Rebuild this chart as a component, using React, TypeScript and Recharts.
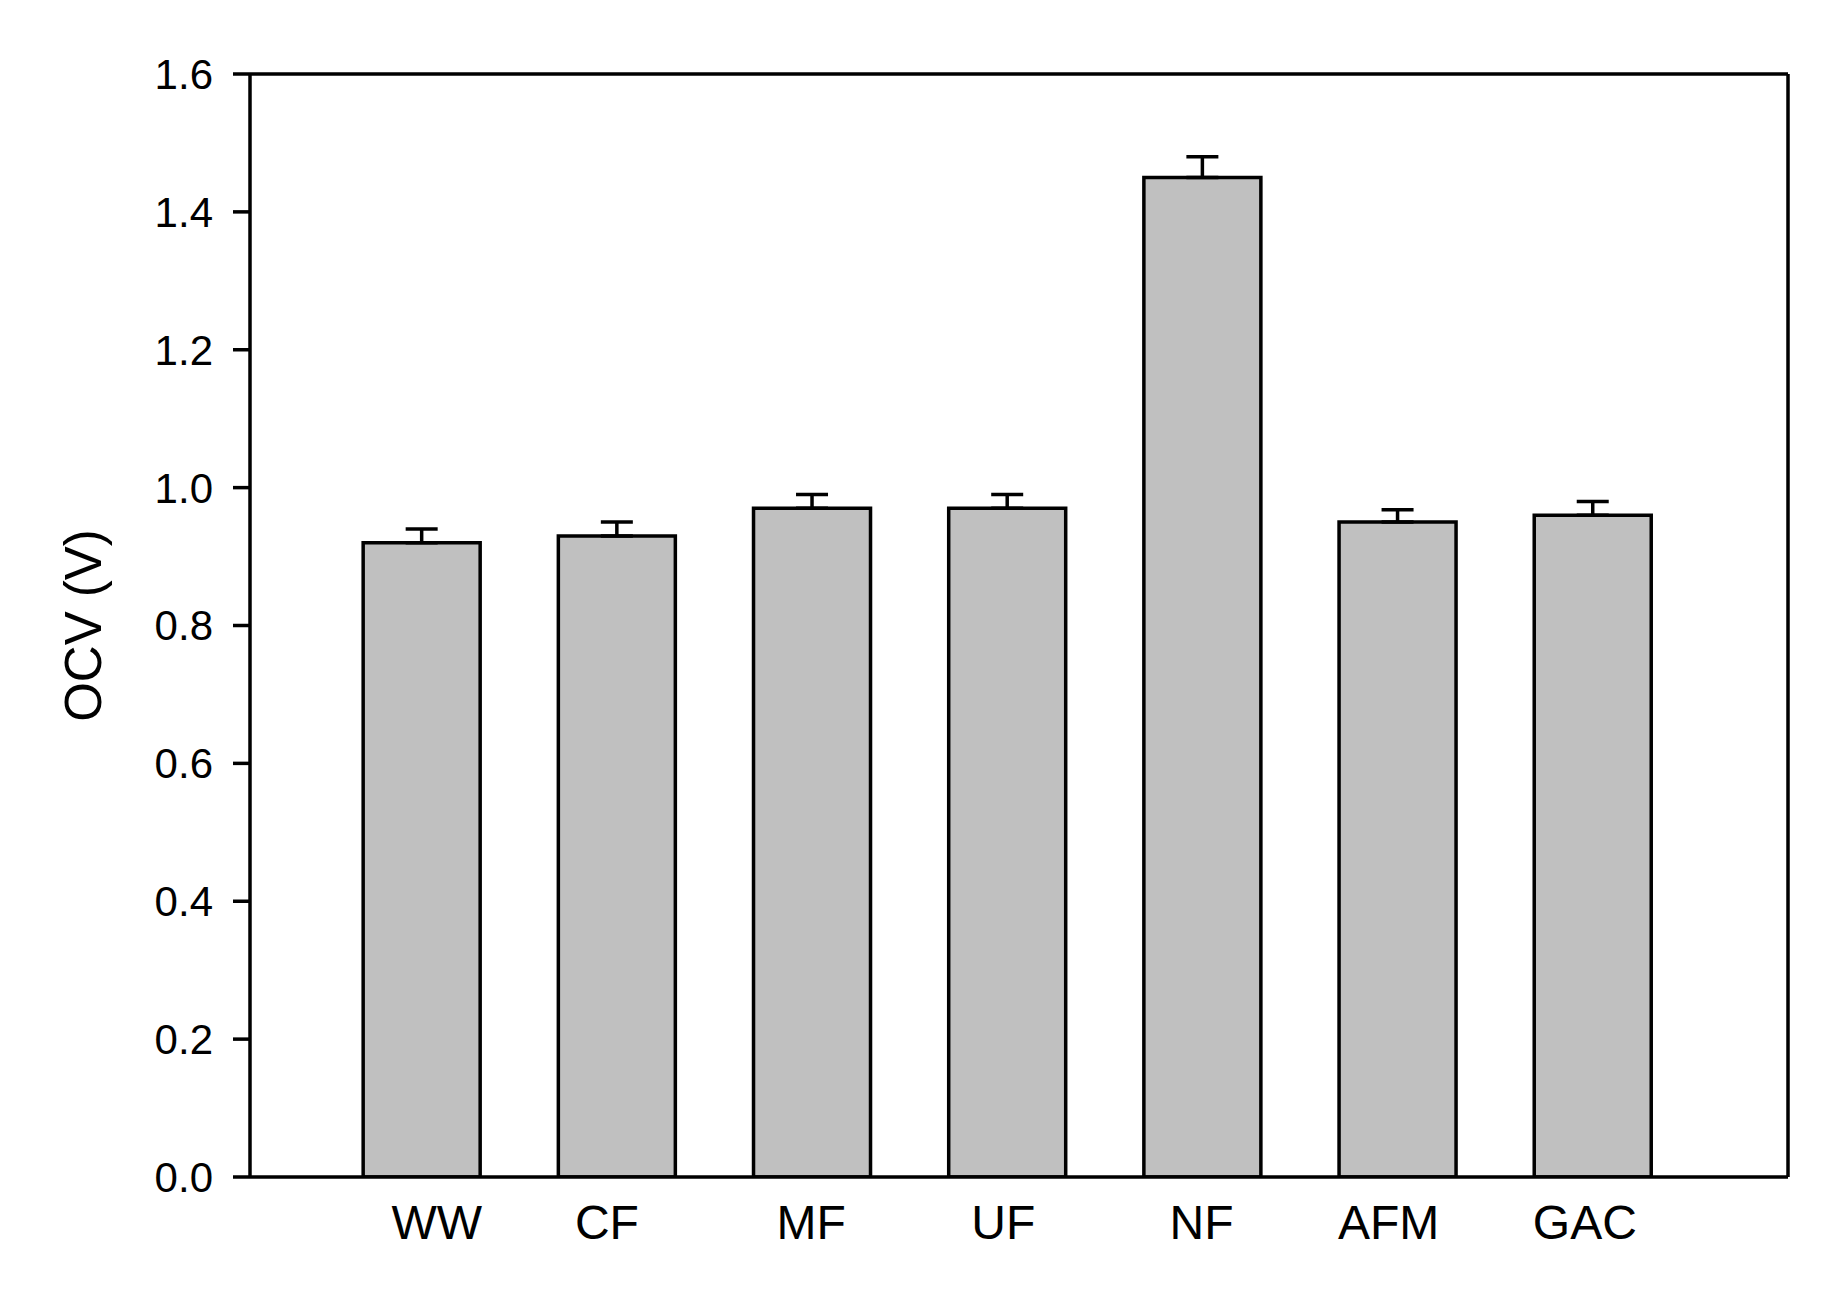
import React from 'react';
import { BarChart, Bar, XAxis, YAxis, ErrorBar, ReferenceLine } from 'recharts';

const categories = ['WW', 'CF', 'MF', 'UF', 'NF', 'AFM', 'GAC'];
const ocvValues = [0.92, 0.93, 0.97, 0.97, 1.45, 0.95, 0.96];
const ocvErrors = [0.02, 0.02, 0.02, 0.02, 0.03, 0.018, 0.02];
const yTicks = [0, 0.2, 0.4, 0.6, 0.8, 1.0, 1.2, 1.4, 1.6];
const xPositions = [1, 2, 3, 4, 5, 6, 7];

// small horizontal nudges of the category labels, as in the original figure (style only)
const labelNudge = [15, -10, -1, -4, -1, -9, -8];

const data = categories.map((c, i) => ({
  name: c,
  x: xPositions[i],
  ocv: ocvValues[i],
  err: [0, ocvErrors[i]],
}));

const FONT = '"Liberation Sans", Arial, sans-serif';
const AXIS_W = 3.5;

const XTick = (props: any) => {
  const { x, y, payload, index } = props;
  const i = xPositions.indexOf(payload.value);
  return (
    <text
      x={x + (labelNudge[i] ?? 0)}
      y={y}
      dy="0.71em"
      textAnchor="middle"
      fill="#000"
      fontSize={48}
      fontFamily={FONT}
    >
      {categories[i] ?? ''}
    </text>
  );
};

export default function App() {
  return (
    <div style={{ position: 'absolute', left: 0, top: 0, background: '#fff' }}>
      <BarChart
        width={1833}
        height={1291}
        data={data}
        margin={{ top: 74, right: 45, bottom: 0, left: 0 }}
      >
        <XAxis
          dataKey="x"
          type="number"
          domain={[0.12, 8]}
          allowDataOverflow
          ticks={xPositions}
          tickLine={false}
          tickSize={0}
          tickMargin={28}
          height={114}
          axisLine={{ stroke: '#000', strokeWidth: AXIS_W }}
          tick={<XTick />}
          interval={0}
        />
        <YAxis
          type="number"
          domain={[0, 1.6]}
          ticks={yTicks}
          allowDataOverflow
          width={250}
          tickSize={17}
          tickMargin={20}
          tickFormatter={(v: number) => v.toFixed(1)}
          tick={{ fill: '#000', fontSize: 42, fontFamily: FONT }}
          tickLine={{ stroke: '#000', strokeWidth: AXIS_W }}
          axisLine={{ stroke: '#000', strokeWidth: AXIS_W }}
          interval={0}
          label={{
            value: 'OCV (V)',
            angle: -90,
            position: 'center',
            dx: -42,
            style: { fill: '#000', fontSize: 51, fontFamily: FONT, textAnchor: 'middle' },
          }}
        />
        <ReferenceLine y={1.6} stroke="#000" strokeWidth={AXIS_W} />
        <ReferenceLine x={8} stroke="#000" strokeWidth={AXIS_W} />
        <Bar
          dataKey="ocv"
          fill="#c0c0c0"
          stroke="#000"
          strokeWidth={3.5}
          barSize={117}
          isAnimationActive={false}
        >
          <ErrorBar dataKey="err" width={16} stroke="#000" strokeWidth={3.5} direction="y" isAnimationActive={false} />
        </Bar>
      </BarChart>
    </div>
  );
}
